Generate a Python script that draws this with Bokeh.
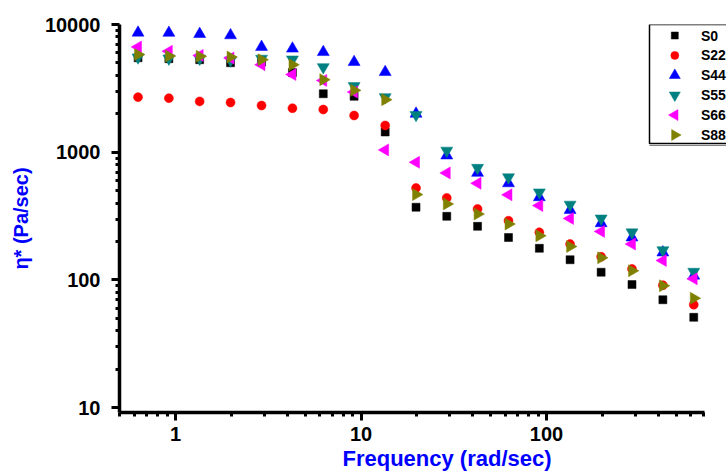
import math
from bokeh.plotting import figure
from bokeh.models import (Range1d, FixedTicker, NumeralTickFormatter, Title, LinearScale)
from bokeh.core.properties import value
from bokeh.embed import file_html
from bokeh.resources import INLINE

freq = [0.628, 0.921, 1.35, 1.98, 2.91, 4.27, 6.26, 9.18, 13.5, 19.8, 29.0, 42.5,
        62.4, 91.5, 134, 197, 289, 424, 622]
s0 = [5490, 5400, 5300, 5020, 5080, 4200, 2870, 2740, 1440, 371, 315, 263, 215, 177, 144, 115, 92, 70, 51]
s22 = [2700, 2650, 2500, 2450, 2320, 2210, 2160, 1940, 1620, 525, 439, 360, 291, 236, 191, 152, 122, 91, 64]
s44 = [8630, 8600, 8420, 8230, 6670, 6470, 6080, 5080, 4240, 2000, 942, 689, 571, 444, 353, 278, 215, 164, 108]
s55 = [5530, 5420, 5400, 5240, 5400, 5330, 4640, 3300, 2700, 1960, 1030, 755, 637, 485, 389, 303, 236, 171, 116]
s66 = [6670, 6170, 5730, 5460, 4840, 4060, 3650, 2960, 1043, 834, 689, 571, 464, 382, 303, 240, 191, 142, 102]
s88 = [5810, 5660, 5630, 5560, 5300, 4840, 3700, 3050, 2580, 466, 394, 328, 274, 222, 183, 149, 118, 90, 72]

series_names = ["S0", "S22", "S44", "S55", "S66", "S88"]
series_vals = [s0, s22, s44, s55, s66, s88]
series_colors = ["#000000", "#FF0000", "#0000FF", "#008080", "#FF00FF", "#808000"]
series_markers = ["square", "circle", "triangle", "inverted_triangle", "triangle", "triangle"]
series_angles = [0, 0, 0, 0, math.pi / 2, -math.pi / 2]
series_sizes = [8, 9, 12, 12, 12, 12]

x_ticks = [1, 10, 100]
y_ticks = [10, 100, 1000, 10000]
x_axis_end = 711

# layout (pixels)
W, H = 726, 472
B_LEFT, B_TOP, B_BOTTOM = 119, 24, 60
FRAME_W = W - B_LEFT
FRAME_H = H - B_TOP - B_BOTTOM

p = figure(width=W, height=H, x_axis_type="log", y_axis_type="log",
           x_range=Range1d(0.499, 934), y_range=Range1d(9.17, 10000),
           output_backend="svg", toolbar_location=None,
           min_border_left=B_LEFT, min_border_right=0, min_border_top=B_TOP,
           min_border_bottom=B_BOTTOM)
p.outline_line_color = None
p.xgrid.visible = False
p.ygrid.visible = False

# pixel-based ranges for the hand-drawn legend box
p.extra_x_ranges = {"px": Range1d(0, FRAME_W)}
p.extra_y_ranges = {"px": Range1d(0, FRAME_H)}
p.extra_x_scales = {"px": LinearScale()}
p.extra_y_scales = {"px": LinearScale()}

xminor = [m * 10 ** e for e in range(-1, 3) for m in range(2, 10) if 0.49 <= m * 10 ** e <= 712]
yminor = [m * 10 ** e for e in range(0, 4) for m in range(2, 10) if 9.1 <= m * 10 ** e <= 10000]
p.xaxis.ticker = FixedTicker(ticks=x_ticks, minor_ticks=xminor)
p.yaxis.ticker = FixedTicker(ticks=y_ticks, minor_ticks=yminor)
p.xaxis.formatter = NumeralTickFormatter(format="0")
p.yaxis.formatter = NumeralTickFormatter(format="0")
p.xaxis.bounds = (0.499, x_axis_end)

for ax in (p.xaxis[0], p.yaxis[0]):
    ax.axis_line_width = 3.5
    ax.axis_line_color = "black"
    ax.major_tick_in = 0
    ax.minor_tick_in = 0
    ax.major_tick_out = 8
    ax.minor_tick_out = 4
    ax.major_tick_line_width = 3
    ax.minor_tick_line_width = 3
    ax.major_tick_line_color = "black"
    ax.minor_tick_line_color = "black"
    ax.major_label_text_font = "Liberation Sans"
    ax.major_label_text_font_style = "bold"
    ax.major_label_text_font_size = "20px"
    ax.major_label_text_color = "black"
    ax.major_label_standoff = 6
    ax.axis_label_text_font = "Liberation Sans"
    ax.axis_label_text_font_style = "bold"
    ax.axis_label_text_color = "#0000FF"

p.yaxis.major_label_standoff = 11
p.yaxis.axis_label = "η* (Pa/sec)"
p.yaxis.axis_label_text_font_size = "20px"
p.yaxis.axis_label_standoff = 10

xlabel = Title(text="Frequency (rad/sec)", align="left", offset=223, standoff=0,
               text_font="Liberation Sans", text_font_style="bold",
               text_font_size="22px", text_color="#0000FF")
p.add_layout(xlabel, "below")

for name, vals, col, mk, ang, sz in zip(series_names, series_vals, series_colors,
                                       series_markers, series_angles, series_sizes):
    p.scatter(freq, vals, marker=mk, angle=ang, size=sz, fill_color=col,
              line_color=col, line_width=0.5)

# legend (page pixel positions converted to frame pixels)
leg_left = 649 - B_LEFT
leg_top = FRAME_H - (24 - B_TOP)
leg_bottom = FRAME_H - (143 - B_TOP)
leg_right = FRAME_W + 20
p.quad(left=[leg_left], right=[leg_right], top=[leg_bottom - 1.5], bottom=[leg_bottom - 2.5],
       fill_color="#808080", line_color=None, x_range_name="px", y_range_name="px")
p.quad(left=[leg_left], right=[leg_right], top=[leg_top], bottom=[leg_bottom],
       fill_color="white", line_color="black", line_width=1.5,
       x_range_name="px", y_range_name="px")
row_y = [FRAME_H - (35 - B_TOP) - i * 19.9 for i in range(len(series_names))]
glyph_x = 674.3 - B_LEFT
text_x = 700.5 - B_LEFT
for i, (name, col, mk, ang, sz) in enumerate(zip(series_names, series_colors, series_markers,
                                                 series_angles, series_sizes)):
    p.scatter([glyph_x], [row_y[i]], marker=mk, angle=ang, size=sz - 1, fill_color=col,
              line_color=col, line_width=0.5, x_range_name="px", y_range_name="px")
p.text(x=[text_x] * len(series_names), y=row_y, text=series_names,
       text_font=value("Liberation Sans"), text_font_style="bold", text_font_size="14px",
       text_baseline="middle", text_align="left", text_color="black",
       x_range_name="px", y_range_name="px")

open("out.html", "w").write(file_html(p, INLINE))
